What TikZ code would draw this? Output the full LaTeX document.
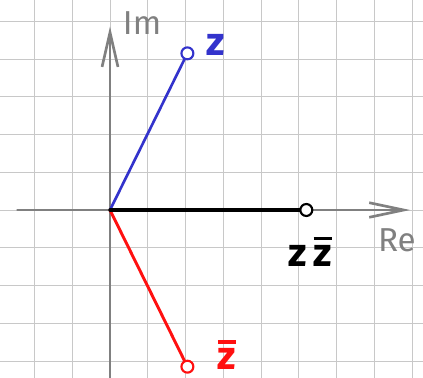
\documentclass[tikz,border=0pt]{standalone}
\usepackage{fontspec}
\setmainfont{Fira Sans}
\usetikzlibrary{arrows.meta,positioning}
\definecolor{gridline}{HTML}{C8C8C8}
\definecolor{axis}{HTML}{808080}
\definecolor{zblue}{HTML}{3333CC}
\definecolor{zred}{HTML}{FF1010}
\newcommand{\barz}{\setbox0\hbox{z}\rlap{\raisebox{1.22\ht0}{\rule{\wd0}{0.09em}}}z}

\begin{document}
\begin{tikzpicture}[line cap=round,
  pt/.style={circle,draw=#1,fill=white,line width=1.6pt,inner sep=0pt,minimum size=9pt},
  axislabel/.style={font=\fontsize{25}{27}\selectfont\fontseries{l}\selectfont,text=axis},
  ptlabel/.style={font=\fontsize{30}{32}\selectfont\bfseries}]
  \useasboundingbox (-2.914,-4.45) rectangle (8.291,5.563);
  \fill[white] (-2.914,-4.45) rectangle (8.291,5.563);
  % squared paper
  \draw[gridline,line width=0.7pt] (-2.914,-4.45) grid (8.291,5.563);
  % axes
  \coordinate (O) at (0,0);
  \coordinate (xl) at (-2.45,0);
  \coordinate (xr) at (7.95,0);
  \coordinate (yb) at (0,-4.5);
  \coordinate (yt) at (0,4.86);
  \draw[axis,line width=2.2pt,-{Straight Barb[length=26pt,width=11pt,line width=2pt]}] (xl) -- (xr);
  \draw[axis,line width=2.2pt,-{Straight Barb[length=26pt,width=12pt,line width=2pt]}] (yb) -- (yt);
  \node[axislabel] (Im) at (0.85,4.95) {Im};
  \node[axislabel] (Re) at (7.6,-0.8) {Re};
  % points
  \coordinate (z) at (2.05,4.15);
  \coordinate (zb) at (2.05,-4.15);
  \coordinate (zz) at (5.2,0);
  \draw[zblue,line width=2pt] (O) -- (z);
  \draw[zred,line width=2.2pt] (O) -- (zb);
  \draw[black,line width=2.6pt] (O) -- (zz);
  \node[pt=zblue] (zpt) at (z) {};
  \node[pt=zred] (zbpt) at (zb) {};
  \node[pt=black] (zzpt) at (zz) {};
  \node[ptlabel,zblue,right=0.2 of zpt,yshift=6pt] (zlab) {z};
  \node[ptlabel,zred,right=0.5 of zbpt,yshift=9pt] (zblab) {\barz};
  \node[ptlabel,black,below=0.4 of zzpt,xshift=3pt] (zzlab) {z\,\barz};
\end{tikzpicture}
\end{document}
